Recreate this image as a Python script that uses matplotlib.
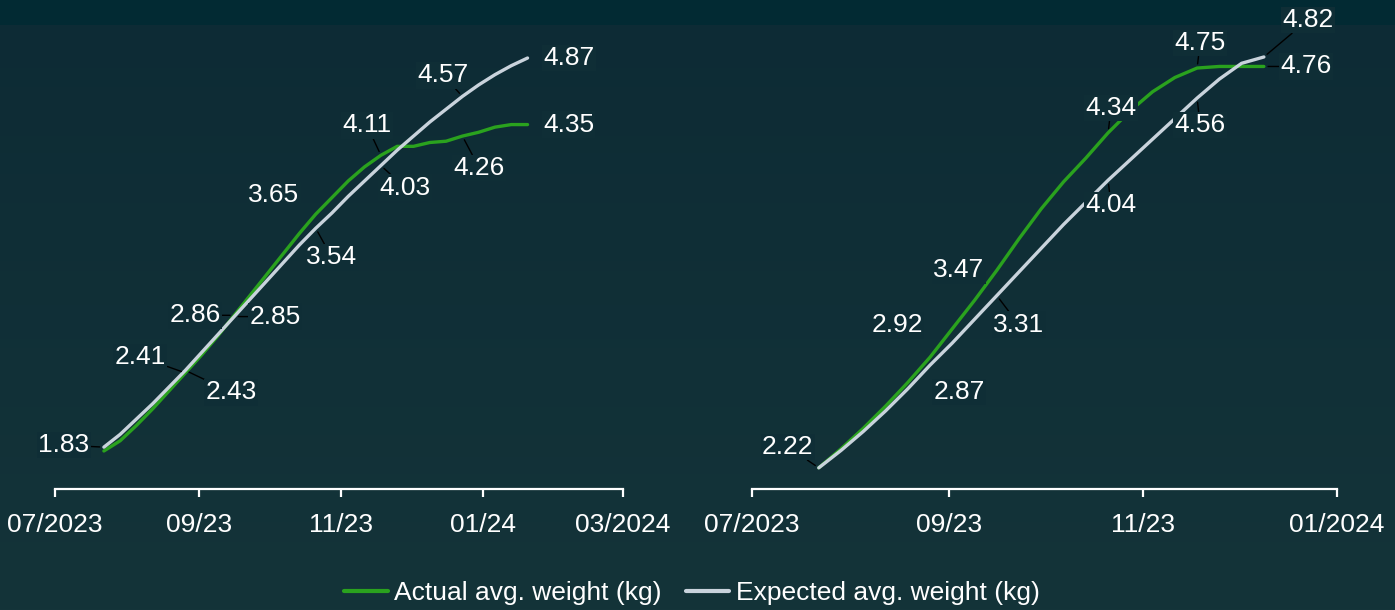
import numpy as np
import pandas as pd
import matplotlib
matplotlib.use("Agg")
import matplotlib.pyplot as plt

# ---------------- data ----------------
left_dates = ["2023-07-22", "2023-07-29", "2023-08-05", "2023-08-12", "2023-08-19", "2023-08-26",
              "2023-09-02", "2023-09-09", "2023-09-16", "2023-09-23", "2023-09-30", "2023-10-07",
              "2023-10-14", "2023-10-21", "2023-10-28", "2023-11-04", "2023-11-11", "2023-11-18",
              "2023-11-25", "2023-12-02", "2023-12-09", "2023-12-16", "2023-12-23", "2023-12-30",
              "2024-01-06", "2024-01-13", "2024-01-20"]
left_actual = [1.80, 1.88, 2.00, 2.13, 2.27, 2.41, 2.55, 2.70, 2.86, 3.02, 3.18, 3.34, 3.50, 3.65,
               3.78, 3.91, 4.02, 4.11, 4.18, 4.18, 4.21, 4.22, 4.26, 4.29, 4.33, 4.35, 4.35]
left_expected = [1.83, 1.93, 2.05, 2.17, 2.30, 2.43, 2.57, 2.71, 2.85, 2.99, 3.13, 3.27, 3.41, 3.54,
                 3.66, 3.79, 3.91, 4.03, 4.15, 4.26, 4.37, 4.47, 4.57, 4.66, 4.74, 4.81, 4.87]

right_dates = ["2023-07-22", "2023-07-29", "2023-08-05", "2023-08-12", "2023-08-19", "2023-08-26",
               "2023-09-02", "2023-09-09", "2023-09-16", "2023-09-23", "2023-09-30", "2023-10-07",
               "2023-10-14", "2023-10-21", "2023-10-28", "2023-11-04", "2023-11-11", "2023-11-18",
               "2023-11-25", "2023-12-02", "2023-12-09"]
right_actual = [2.22, 2.34, 2.47, 2.61, 2.76, 2.92, 3.10, 3.28, 3.47, 3.67, 3.86, 4.03, 4.18, 4.34,
                4.48, 4.60, 4.69, 4.75, 4.76, 4.76, 4.76]
right_expected = [2.22, 2.33, 2.45, 2.58, 2.72, 2.87, 3.01, 3.16, 3.31, 3.46, 3.61, 3.76, 3.90, 4.04,
                  4.17, 4.30, 4.43, 4.56, 4.68, 4.78, 4.82]

left_ticks = ["2023-07-01", "2023-09-01", "2023-11-01", "2024-01-01", "2024-03-01"]
left_ticklabels = ["07/2023", "09/23", "11/23", "01/24", "03/2024"]
right_ticks = ["2023-07-01", "2023-09-01", "2023-11-01", "2024-01-01"]
right_ticklabels = ["07/2023", "09/23", "11/23", "01/2024"]

series_names = ["Actual avg. weight (kg)", "Expected avg. weight (kg)"]

# label specs: (series, index, dx px, dy px, draw leader)
left_labels = [("e", 0, -40, 2, True), ("a", 5, -45, 16, True), ("e", 5, 46, -22, True),
               ("a", 8, -39, 0, True), ("e", 8, 41, 0, True), ("a", 13, -42, 19, False),
               ("e", 13, 16, -29, True), ("a", 17, -14, 30, True), ("e", 17, 24, -22, True),
               ("a", 22, 17, -32, True), ("e", 22, -19, 21, True), ("e", 26, 41, 0, False),
               ("a", 26, 41, 0, False)]
right_labels = [("e", 0, -31, 21, True), ("a", 5, -33, 32, False), ("e", 5, 29, -27, False),
                ("a", 8, -38, 0, False), ("e", 8, 22, -29, True), ("a", 13, 3, 25, True),
                ("e", 13, 3, -25, True), ("a", 17, 3, 25, True), ("e", 17, 3, -27, True),
                ("e", 20, 44, 37, True), ("a", 20, 42, 0, True)]

# ---------------- style ----------------
plt.rcParams['font.family'] = ['Liberation Sans', 'DejaVu Sans']
FS = 19
GREEN = "#2aa21e"
GREY = "#c9d3dc"
WHITE = "#ffffff"
BG_MID = "#0f2e36"

W, H = 1395, 610
fig = plt.figure(figsize=(W / 100, H / 100), dpi=100)

# background gradient
bg = fig.add_axes([0, 0, 1, 1], zorder=-10)
top = np.array([13, 43, 53]) / 255
bot = np.array([20, 52, 57]) / 255
t = np.linspace(0, 1, H)[:, None]
img = top[None, None, :] * (1 - t[..., None]) + bot[None, None, :] * t[..., None]
img = np.repeat(img, 4, axis=1)
img[:25, :, :] = np.array([2, 42, 51]) / 255
bg.imshow(img, aspect="auto", extent=[0, 1, 0, 1], origin="upper")
bg.axis("off")


def px_to_frac(x0, x1, ytop, ybot):
    return [x0 / W, (H - ybot) / H, (x1 - x0) / W, (ybot - ytop) / H]


def draw(ax, dates, actual, expected, ticks, ticklabels, xlim, ylim, labels):
    d = pd.to_datetime(dates)
    ax.plot(d, actual, color=GREEN, lw=2.4, solid_capstyle="round", zorder=2, label=series_names[0])
    ax.plot(d, expected, color=GREY, lw=2.4, solid_capstyle="round", zorder=2, label=series_names[1])
    ax.set_xlim(pd.to_datetime(xlim[0]), pd.to_datetime(xlim[1]))
    ax.set_ylim(*ylim)
    ax.set_facecolor("none")
    for s in ["top", "right", "left"]:
        ax.spines[s].set_visible(False)
    ax.spines["bottom"].set_color(WHITE)
    ax.spines["bottom"].set_linewidth(1.6)
    ax.set_yticks([])
    ax.set_xticks(pd.to_datetime(ticks))
    ax.set_xticklabels(ticklabels)
    ax.tick_params(axis="x", direction="out", length=6, width=1.6, color=WHITE,
                   labelcolor=WHITE, labelsize=FS, pad=11)
    for ser, i, dx, dy, lead in labels:
        vals = actual if ser == "a" else expected
        v = vals[i]
        ap = dict(arrowstyle="-", color="black", lw=1, shrinkA=0, shrinkB=3) if lead else None
        ax.annotate(f"{v:.2f}", xy=(d[i], v), xytext=(dx, dy), textcoords="offset pixels",
                    ha="center", va="center", fontsize=FS, color=WHITE, zorder=4,
                    bbox=dict(boxstyle="square,pad=0.05", fc=BG_MID, ec="none"),
                    arrowprops=ap)


axL = fig.add_axes(px_to_frac(55, 623, 20, 489))
draw(axL, left_dates, left_actual, left_expected, left_ticks, left_ticklabels,
     ("2023-07-01", "2024-03-01"), (1.503, 5.167), left_labels)

axR = fig.add_axes(px_to_frac(752, 1337, 20, 489))
draw(axR, right_dates, right_actual, right_expected, right_ticks, right_ticklabels,
     ("2023-07-01", "2024-01-01"), (2.086, 5.054), right_labels)

h, l = axL.get_legend_handles_labels()
leg = fig.legend(h, l, loc="center", bbox_to_anchor=(692 / W, (H - 593) / H), ncol=2,
                 frameon=False, fontsize=FS, handlelength=1.65, handletextpad=0.25,
                 columnspacing=0.9, labelcolor=WHITE)
for line in leg.get_lines():
    line.set_linewidth(3)

fig.savefig("out.png", dpi=100)
